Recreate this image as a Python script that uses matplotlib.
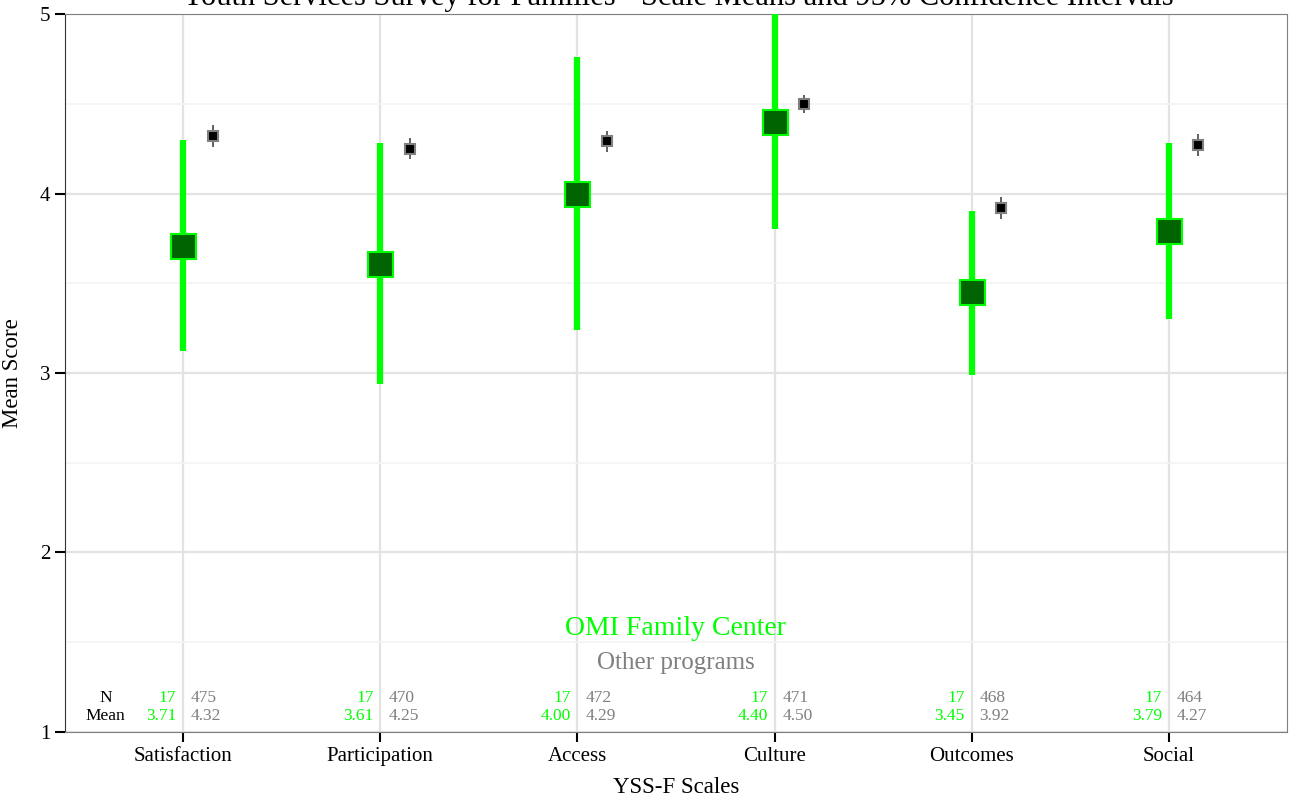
import numpy as np
import matplotlib.pyplot as plt

plt.rcParams['font.family'] = ['Liberation Serif', 'DejaVu Serif']

scales = ['Satisfaction', 'Participation', 'Access', 'Culture', 'Outcomes', 'Social']
omi_n = [17, 17, 17, 17, 17, 17]
omi_mean = [3.71, 3.61, 4.00, 4.40, 3.45, 3.79]
omi_lo = [3.12, 2.94, 3.24, 3.80, 2.99, 3.30]
omi_hi = [4.30, 4.28, 4.76, 5.00, 3.90, 4.28]
oth_n = [475, 470, 472, 471, 468, 464]
oth_mean = [4.32, 4.25, 4.29, 4.50, 3.92, 4.27]
oth_lo = [4.26, 4.19, 4.23, 4.45, 3.86, 4.21]
oth_hi = [4.38, 4.31, 4.35, 4.55, 3.98, 4.33]

green = '#00ff00'
dkgreen = '#006400'
gray = '#7f7f7f'

fig = plt.figure(figsize=(12.91, 8.02), dpi=100)
ax = fig.add_axes([0.0503, 0.0873, 0.9466, 0.8952])

x = np.arange(1, len(scales) + 1)
dx = 0.15

ax.set_xlim(0.4, 6.6)
ax.set_ylim(1, 5)
ax.set_yticks([1, 2, 3, 4, 5])
ax.set_yticks([1.5, 2.5, 3.5, 4.5], minor=True)
ax.set_xticks(x)
ax.set_xticklabels(scales)
ax.grid(True, which='major', color='#e3e3e3', lw=1.6, zorder=0)
ax.grid(True, which='minor', axis='y', color='#f4f4f4', lw=1.2, zorder=0)
ax.set_axisbelow(True)

# OMI Family Center
ax.vlines(x, omi_lo, omi_hi, color=green, lw=4.5, zorder=3)
ax.plot(x, omi_mean, ls='none', marker='s', ms=18, mfc=dkgreen, mec=green, mew=1.5, zorder=4)

# other programs
ax.vlines(x + dx, oth_lo, oth_hi, color='#555555', lw=1.3, zorder=3)
ax.plot(x + dx, oth_mean, ls='none', marker='s', ms=7.5, mfc='black', mec=gray, mew=1.5, zorder=4)

# N / mean table
fs = 12.5
ax.text(0.605, 1.19, 'N', ha='center', va='center', fontsize=fs)
ax.text(0.605, 1.09, 'Mean', ha='center', va='center', fontsize=fs)
for i in range(len(scales)):
    ax.text(x[i] - 0.035, 1.19, str(omi_n[i]), ha='right', va='center', fontsize=fs, color=green)
    ax.text(x[i] - 0.035, 1.09, '%.2f' % omi_mean[i], ha='right', va='center', fontsize=fs, color=green)
    ax.text(x[i] + 0.04, 1.19, str(oth_n[i]), ha='left', va='center', fontsize=fs, color=gray)
    ax.text(x[i] + 0.04, 1.09, '%.2f' % oth_mean[i], ha='left', va='center', fontsize=fs, color=gray)

ax.text(3.5, 1.575, 'OMI Family Center', ha='center', va='center', fontsize=20, color=green)
ax.text(3.5, 1.385, 'Other programs', ha='center', va='center', fontsize=18, color=gray)

for s in ['top', 'right', 'bottom']:
    ax.spines[s].set_color(gray)
ax.spines['left'].set_color('#333333')
ax.tick_params(axis='both', direction='out', length=7, width=1.5, color='black', labelsize=15)
ax.tick_params(axis='y', which='minor', length=0)
ax.set_xlabel('YSS-F Scales', fontsize=16.5, labelpad=8)
ax.set_ylabel('Mean Score', fontsize=16.5, labelpad=12)

fig.text(0.525, 1.003, 'Youth Services Survey for Families - Scale Means and 95% Confidence Intervals',
         ha='center', va='center', fontsize=22)

fig.savefig('out.png', dpi=100)
